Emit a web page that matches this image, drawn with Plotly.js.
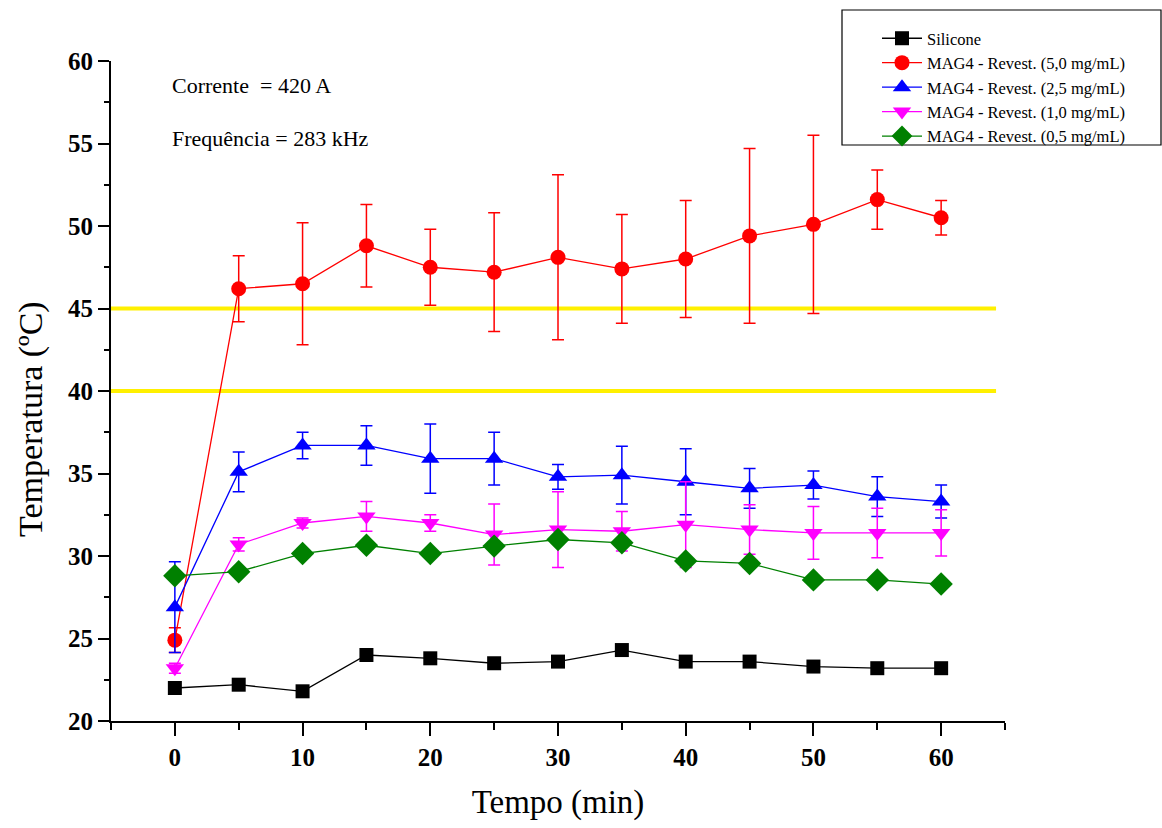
<!DOCTYPE html>
<html>
<head>
<meta charset="utf-8">
<script src="https://cdn.plot.ly/plotly-3.0.1.min.js"></script>
<style>html,body{margin:0;padding:0;background:#fff;}#chart{width:1162px;height:828px;}</style>
</head>
<body>
<div id="chart"></div>
<script>
// ---- data ----
const tempo = [0, 5, 10, 15, 20, 25, 30, 35, 40, 45, 50, 55, 60];
const seriesNames = ["Silicone", "MAG4 - Revest. (5,0 mg/mL)", "MAG4 - Revest. (2,5 mg/mL)", "MAG4 - Revest. (1,0 mg/mL)", "MAG4 - Revest. (0,5 mg/mL)"];
const silicone = [22.0, 22.2, 21.8, 24.0, 23.8, 23.5, 23.6, 24.3, 23.6, 23.6, 23.3, 23.2, 23.2];
const mag50 = [24.9, 46.2, 46.5, 48.8, 47.5, 47.2, 48.1, 47.4, 48.0, 49.4, 50.1, 51.6, 50.5];
const mag50Err = [0.75, 2.0, 3.7, 2.5, 2.3, 3.6, 5.0, 3.3, 3.55, 5.3, 5.4, 1.8, 1.05];
const mag25 = [26.9, 35.1, 36.7, 36.7, 35.9, 35.9, 34.8, 34.9, 34.5, 34.1, 34.3, 33.6, 33.3];
const mag25Err = [2.75, 1.2, 0.8, 1.2, 2.1, 1.6, 0.75, 1.75, 2.0, 1.2, 0.85, 1.2, 1.0];
const mag10 = [23.2, 30.7, 32.0, 32.4, 32.0, 31.3, 31.6, 31.5, 31.9, 31.6, 31.4, 31.4, 31.4];
const mag10Err = [0.3, 0.4, 0.3, 0.9, 0.5, 1.85, 2.3, 1.2, 2.6, 1.5, 1.6, 1.5, 1.4];
const mag05 = [28.8, 29.05, 30.15, 30.65, 30.15, 30.6, 31.0, 30.8, 29.7, 29.55, 28.55, 28.55, 28.3];
const limits = [45, 40];
const annotationsText = ["Corrente  = 420 A", "Frequência = 283 kHz"];
const xTitle = "Tempo (min)";
const yTitle = "Temperatura (ºC)";

const serif = "Liberation Serif, Times New Roman, serif";

function mk(y, err, name, color, symbol, size) {
  const t = {
    x: tempo, y: y, name: name, type: "scatter", mode: "lines+markers",
    line: {color: color, width: 1.3},
    marker: {color: color, symbol: symbol, size: size, line: {width: 0}}
  };
  if (err) t.error_y = {type: "data", array: err, visible: true, color: color, thickness: 1.5, width: 6};
  return t;
}

const data = [
  mk(silicone, null, seriesNames[0], "#000000", "square", 14),
  mk(mag50, mag50Err, seriesNames[1], "#FF0000", "circle", 15),
  mk(mag25, mag25Err, seriesNames[2], "#0000FF", "triangle-up", 16),
  mk(mag10, mag10Err, seriesNames[3], "#FF00FF", "triangle-down", 16),
  mk(mag05, null, seriesNames[4], "#008000", "diamond", 18)
];

const L = 111, R = 1005, T = 61, B = 721, W = 1162, H = 828;
const px = v => (v - L) / (R - L);
const py = v => (B - v) / (B - T);

const shapes = limits.map(v => ({
  type: "line", xref: "x", yref: "y", x0: -5, x1: 64.3, y0: v, y1: v,
  line: {color: "#FFF000", width: 4}, layer: "below"
}));
shapes.push({type: "rect", xref: "paper", yref: "paper", x0: px(842), x1: px(1161), y0: py(145), y1: py(10),
  line: {color: "#000000", width: 1.2}, fillcolor: "rgba(0,0,0,0)"});

const layout = {
  width: W, height: H,
  margin: {l: L, r: W - R, t: T, b: H - B, pad: 0},
  paper_bgcolor: "#ffffff", plot_bgcolor: "#ffffff",
  showlegend: true,
  legend: {
    x: px(877), y: py(21), xanchor: "left", yanchor: "top",
    bgcolor: "rgba(0,0,0,0)", borderwidth: 0,
    font: {family: serif, size: 16.5, color: "#000"},
    itemwidth: 40, tracegroupgap: 0
  },
  xaxis: {
    range: [-5, 65], tick0: 0, dtick: 10, ticks: "outside", ticklen: 13, tickwidth: 2, tickcolor: "#000",
    showline: true, linewidth: 2, linecolor: "#000", showgrid: false, zeroline: false,
    minor: {dtick: 5, tick0: 0, ticks: "outside", ticklen: 7, tickwidth: 2, tickcolor: "#000", showgrid: false},
    tickfont: {family: serif, size: 25, color: "#000", weight: "bold"},
    title: {text: xTitle, font: {family: serif, size: 33, color: "#000"}, standoff: 20}
  },
  yaxis: {
    range: [20, 60], tick0: 20, dtick: 5, ticks: "outside", ticklen: 11, tickwidth: 2, tickcolor: "#000",
    showline: true, linewidth: 2, linecolor: "#000", showgrid: false, zeroline: false,
    minor: {dtick: 2.5, tick0: 20, ticks: "outside", ticklen: 5, tickwidth: 2, tickcolor: "#000", showgrid: false},
    tickfont: {family: serif, size: 25, color: "#000", weight: "bold"}
  },
  shapes: shapes,
  annotations: [
    {text: annotationsText[0], xref: "paper", yref: "paper", x: px(170), y: py(86), xanchor: "left", yanchor: "middle", showarrow: false, font: {family: serif, size: 22, color: "#000"}},
    {text: annotationsText[1], xref: "paper", yref: "paper", x: px(170), y: py(138), xanchor: "left", yanchor: "middle", showarrow: false, font: {family: serif, size: 22, color: "#000"}},
    {text: yTitle, xref: "paper", yref: "paper", x: px(31), y: py(419), xanchor: "center", yanchor: "middle", textangle: -90, showarrow: false, font: {family: serif, size: 34, color: "#000"}}
  ]
};

Plotly.newPlot("chart", data, layout, {displayModeBar: false, staticPlot: true});
</script>
</body>
</html>
